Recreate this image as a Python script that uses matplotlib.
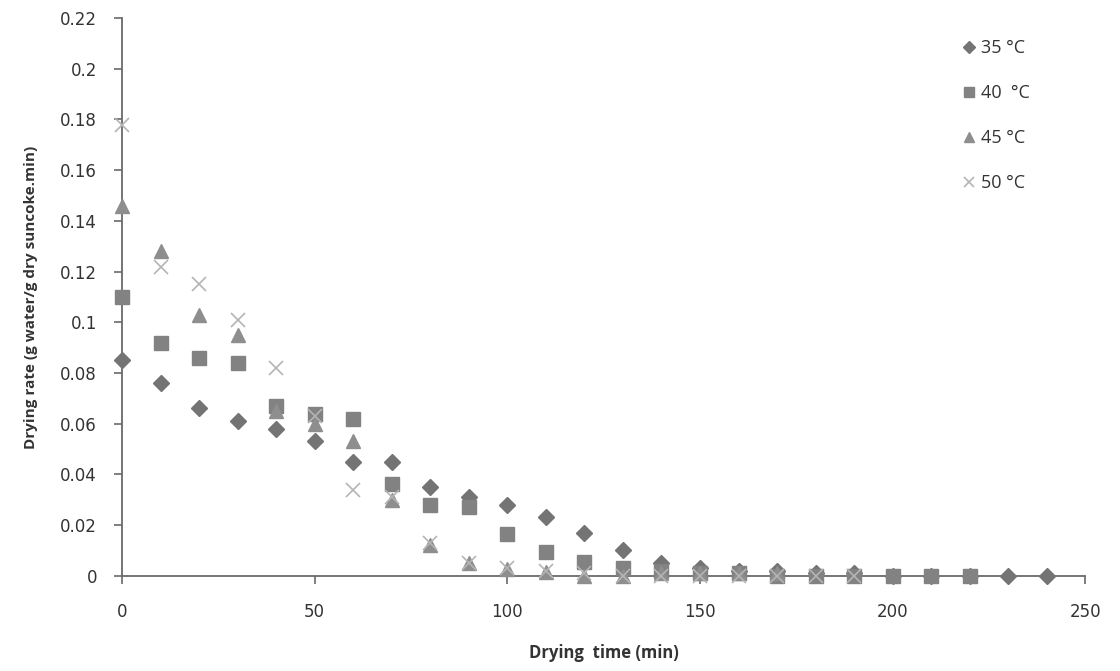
"""Drying rate curves of suncoke at four drying temperatures."""

import matplotlib
matplotlib.use("Agg")
import matplotlib.pyplot as plt

# drying time (min) and drying rate (g water/g dry suncoke.min)
time_35 = [0, 10, 20, 30, 40, 50, 60, 70, 80, 90, 100, 110, 120, 130, 140,
           150, 160, 170, 180, 190, 200, 210, 220, 230, 240]
rate_35 = [0.085, 0.076, 0.066, 0.061, 0.058, 0.053, 0.045, 0.045, 0.035,
           0.031, 0.028, 0.023, 0.017, 0.010, 0.005, 0.003, 0.002, 0.002,
           0.001, 0.001, 0.0, 0.0, 0.0, 0.0, 0.0]

time_40 = [0, 10, 20, 30, 40, 50, 60, 70, 80, 90, 100, 110, 120, 130, 140,
           150, 160, 170, 180, 190, 200, 210, 220]
rate_40 = [0.110, 0.092, 0.086, 0.084, 0.067, 0.064, 0.062, 0.036, 0.028,
           0.027, 0.0165, 0.0095, 0.0055, 0.003, 0.002, 0.001, 0.001, 0.0,
           0.0, 0.0, 0.0, 0.0, 0.0]

time_45 = [0, 10, 20, 30, 40, 50, 60, 70, 80, 90, 100, 110, 120, 130, 140,
           150, 160, 170]
rate_45 = [0.146, 0.128, 0.103, 0.095, 0.065, 0.060, 0.053, 0.030, 0.012,
           0.005, 0.0025, 0.0016, 0.0, 0.0, 0.001, 0.001, 0.001, 0.001]

time_50 = [0, 10, 20, 30, 40, 50, 60, 70, 80, 90, 100, 110, 120, 130, 140,
           150, 160, 170, 180, 190]
rate_50 = [0.178, 0.122, 0.115, 0.101, 0.082, 0.063, 0.034, 0.031, 0.013,
           0.005, 0.003, 0.002, 0.001, 0.0, 0.0, 0.0, 0.0, 0.0, 0.0, 0.0]

labels = ["35 °C", "40  °C", "45 °C", "50 °C"]
x_ticks = [0, 50, 100, 150, 200, 250]
y_ticks = [0, 0.02, 0.04, 0.06, 0.08, 0.1, 0.12, 0.14, 0.16, 0.18, 0.2, 0.22]
y_ticklabels = ["0", "0.02", "0.04", "0.06", "0.08", "0.1", "0.12", "0.14",
                "0.16", "0.18", "0.2", "0.22"]

fig = plt.figure(figsize=(11.2, 6.71), dpi=100)
ax = fig.add_axes([0.109, 0.142, 0.860, 0.831])

styles = [
    dict(marker="D", color="#747474", ms=8.5, mec="#747474"),
    dict(marker="s", color="#828282", ms=9.5, mec="#828282"),
    dict(marker="^", color="#8e8e8e", ms=10, mec="#8e8e8e"),
    dict(marker="x", color="#b4b4b4", ms=10, mew=1.2),
]
series = [(time_35, rate_35), (time_40, rate_40),
          (time_45, rate_45), (time_50, rate_50)]

for (t, r), st, lab in zip(series, styles, labels):
    ax.plot(t, r, linestyle="none", label=lab, clip_on=False, zorder=3, **st)

ax.set_xlim(0, 250)
ax.set_ylim(0, 0.22)
ax.set_xticks(x_ticks)
ax.set_yticks(y_ticks)
ax.set_yticklabels(y_ticklabels)

for side in ["top", "right"]:
    ax.spines[side].set_visible(False)
for side in ["left", "bottom"]:
    ax.spines[side].set_color("#6a6a6a")
    ax.spines[side].set_linewidth(1.3)

ax.tick_params(axis="both", direction="out", color="#6a6a6a", width=1.2,
               length=6, labelsize=12, labelcolor="#333333")
ax.tick_params(axis="x", pad=14)
ax.tick_params(axis="y", pad=12)

ax.set_xlabel("Drying  time (min)", fontsize=12, fontweight="bold",
              family="Open Sans", color="#333333", labelpad=16)
ax.set_ylabel("Drying rate (g water/g dry suncoke.min)", fontsize=11,
              fontweight="bold", family="Open Sans", color="#333333",
              labelpad=16)

leg = ax.legend(loc="upper left", bbox_to_anchor=(0.849, 0.955),
                bbox_transform=fig.transFigure, frameon=False,
                labelspacing=1.5, handletextpad=0.15, borderpad=0,
                handlelength=1.0, markerscale=0.75,
                prop={"family": "Open Sans", "size": 13})
for txt in leg.get_texts():
    txt.set_color("#333333")

fig.savefig("out.png", dpi=100, facecolor="white")
